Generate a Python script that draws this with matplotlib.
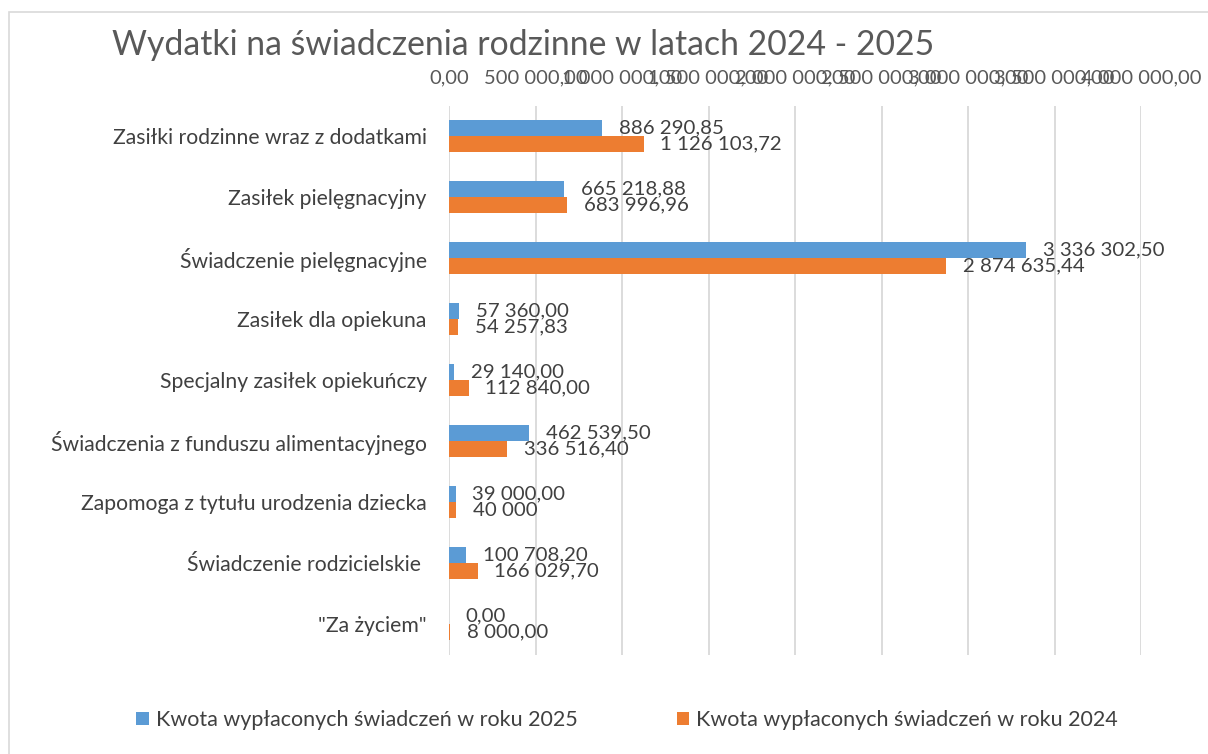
import matplotlib.pyplot as plt
from matplotlib.patches import Rectangle
import numpy as np

# --------------------------------------------------
# Data
# --------------------------------------------------
categories = [
    "Zasiłki rodzinne wraz z dodatkami",
    "Zasiłek pielęgnacyjny",
    "Świadczenie pielęgnacyjne",
    "Zasiłek dla opiekuna",
    "Specjalny zasiłek opiekuńczy",
    "Świadczenia z funduszu alimentacyjnego",
    "Zapomoga z tytułu urodzenia dziecka",
    "Świadczenie rodzicielskie ",
    "\"Za życiem\"",
]

values_2025 = [886290.85, 665218.88, 3336302.50, 57360.00, 29140.00,
               462539.50, 39000.00, 100708.20, 0.00]
values_2024 = [1126103.72, 683996.96, 2874635.44, 54257.83, 112840.00,
               336516.40, 40000.00, 166029.70, 8000.00]

labels_2025 = ["886 290,85", "665 218,88", "3 336 302,50", "57 360,00", "29 140,00",
               "462 539,50", "39 000,00", "100 708,20", "0,00"]
labels_2024 = ["1 126 103,72", "683 996,96", "2 874 635,44", "54 257,83", "112 840,00",
               "336 516,40", "40 000", "166 029,70", "8 000,00"]

x_ticks = [0, 500000, 1000000, 1500000, 2000000, 2500000, 3000000, 3500000, 4000000]
x_tick_labels = ["0,00", "500 000,00", "1 000 000,00", "1 500 000,00", "2 000 000,00",
                 "2 500 000,00", "3 000 000,00", "3 500 000,00", "4 000 000,00"]

legend_labels = ["Kwota wypłaconych świadczeń w roku 2025",
                 "Kwota wypłaconych świadczeń w roku 2024"]

title = "Wydatki na świadczenia rodzinne w latach 2024 - 2025"

blue = "#5B9BD5"
orange = "#ED7D31"
text_col = "#404040"

plt.rcParams["font.family"] = ["Lato", "DejaVu Sans"]

# --------------------------------------------------
# Plot
# --------------------------------------------------
W, H = 1208, 754
fig = plt.figure(figsize=(W / 100, H / 100), dpi=100)
ax = fig.add_axes([449 / W, 1 - 654.5 / H, 692 / W, 549 / H])

y = np.arange(len(categories))
bh = 0.27
b1 = ax.barh(y - bh / 2, values_2025, height=bh, color=blue, label=legend_labels[0], zorder=3)
b2 = ax.barh(y + bh / 2, values_2024, height=bh, color=orange, label=legend_labels[1], zorder=3)

for yy, v, lab in zip(y - bh / 2, values_2025, labels_2025):
    ax.annotate(lab, (v, yy), xytext=(12, 0), textcoords="offset points",
                va="center", ha="left", fontsize=14.7, color=text_col, zorder=4)
for yy, v, lab in zip(y + bh / 2, values_2024, labels_2024):
    ax.annotate(lab, (v, yy), xytext=(12, 0), textcoords="offset points",
                va="center", ha="left", fontsize=14.7, color=text_col, zorder=4)

ax.set_xlim(0, 4000000)
ax.set_ylim(len(categories) - 0.5, -0.5)
ax.set_yticks(y)
ax.set_yticklabels(categories, fontsize=15.2, color=text_col)
ax.xaxis.tick_top()
ax.set_xticks(x_ticks)
ax.set_xticklabels(x_tick_labels, fontsize=14.5, color="#595959")
ax.tick_params(axis="both", length=0)
ax.tick_params(axis="x", pad=14)
ax.tick_params(axis="y", pad=16)
ax.grid(axis="x", color="#D9D9D9", linewidth=1.3, zorder=0)
for s in ax.spines.values():
    s.set_visible(False)

fig.text(112 / W, 1 - 45 / H, title, fontsize=24.3, color="#595959", va="center", ha="left")

fig.legend(handles=[b1, b2], labels=legend_labels, loc="center",
           bbox_to_anchor=(627 / W, 1 - 720 / H), ncol=2, frameon=False,
           fontsize=15.5, handlelength=0.6, handleheight=0.6, handletextpad=0.3,
           columnspacing=4.6, labelcolor=text_col)

fig.patches.append(Rectangle((9 / W, -0.1), 1.2, 1 - 12 / H + 0.1, transform=fig.transFigure,
                             fill=False, edgecolor="#D9D9D9", linewidth=1.2))

fig.savefig("out.png", dpi=100)
